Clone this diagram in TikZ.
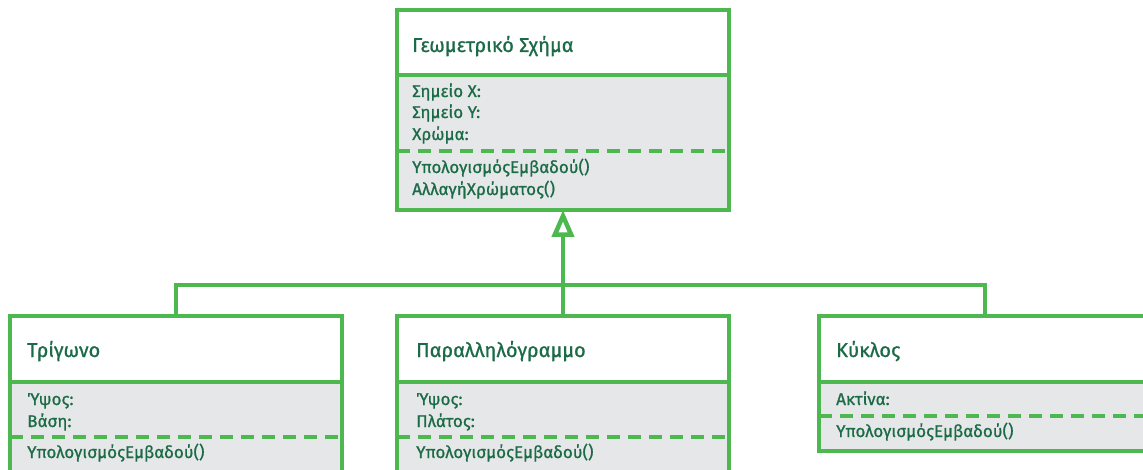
\documentclass[tikz,border=0pt]{standalone}
\usepackage{fontspec}
\setmainfont[FakeBold=0.8]{Fira Sans}
\usetikzlibrary{arrows.meta,calc}
\definecolor{UmlGreen}{HTML}{4CB84F}
\definecolor{UmlGray}{HTML}{E6E7E8}
\definecolor{UmlInk}{HTML}{1C6B47}
\tikzset{
  classhead/.style={draw=UmlGreen, fill=white, line width=4.5pt, inner sep=0pt,
    outer sep=0pt, minimum width=332pt, minimum height=66pt, anchor=north},
  classbody/.style={draw=UmlGreen, fill=UmlGray, line width=4.5pt, inner sep=0pt,
    outer sep=0pt, minimum width=332pt, anchor=north},
  classname/.style={anchor=base west, inner sep=0pt, text=UmlInk,
    font=\fontsize{20}{24}\selectfont},
  member/.style={anchor=base west, inner sep=0pt, text=UmlInk,
    font=\fontsize{17}{20}\selectfont},
  sep/.style={draw=UmlGreen, line width=4.5pt, dash pattern=on 13pt off 8pt},
  link/.style={draw=UmlGreen, line width=4.5pt}
}

\begin{document}
\begin{tikzpicture}[x=1pt, y=-1pt]
  \clip (0,0) rectangle (1143,470);
  % base class
  \node[classhead, minimum height=65pt] (shapehead) at (563,10) {};
  \node[classbody, minimum height=135pt] (shapebody) at (shapehead.south) {};
  \draw[sep] (shapebody.west |- 0,151) -- (shapebody.east |- 0,151);
  \node[classname] (shapename) at (412,52) {Γεωμετρικό Σχήμα};
  \node[member] (shapex) at (412,97) {Σημείο X:};
  \node[member] (shapey) at (412,118) {Σημείο Y:};
  \node[member] (shapecol) at (412,140) {Χρώμα:};
  \node[member] (shapearea) at (412,173) {ΥπολογισμόςΕμβαδού()};
  \node[member] (shaperecol) at (412,195) {ΑλλαγήΧρώματος()};

  % derived classes
  \node[classhead] (trihead) at (176,316) {};
  \node[classbody, minimum height=100pt] (tribody) at (trihead.south) {};
  \node[classhead] (parahead) at (563,316) {};
  \node[classbody, minimum height=100pt] (parabody) at (parahead.south) {};
  \node[classhead] (circhead) at (985,316) {};
  \node[classbody, minimum height=69pt] (circbody) at (circhead.south) {};

  \draw[sep] (tribody.west |- 0,437) -- (tribody.east |- 0,437);
  \draw[sep] (parabody.west |- 0,437) -- (parabody.east |- 0,437);
  \draw[sep] (circbody.west |- 0,416) -- (circbody.east |- 0,416);

  \node[classname] (triname) at (27,357) {Τρίγωνο};
  \node[member] (trih) at (27,405) {Ύψος:};
  \node[member] (trib) at (27,427) {Βάση:};
  \node[member] (triarea) at (27,458) {ΥπολογισμόςΕμβαδού()};

  \node[classname] (paraname) at (416,357) {Παραλληλόγραμμο};
  \node[member] (parah) at (416,405) {Ύψος:};
  \node[member] (paraw) at (416,427) {Πλάτος:};
  \node[member] (paraarea) at (416,458) {ΥπολογισμόςΕμβαδού()};

  \node[classname] (circname) at (836,357) {Κύκλος};
  \node[member] (circr) at (836,405) {Ακτίνα:};
  \node[member] (circarea) at (836,437) {ΥπολογισμόςΕμβαδού()};

  % inheritance
  \coordinate (bus) at (563,285);
  \draw[link] (trihead.north) -- (trihead.north |- bus)
    -- (circhead.north |- bus) -- (circhead.north);
  \draw[link, -{Triangle[open, length=27pt, width=22pt]}]
    (parahead.north) -- (shapebody.south);
\end{tikzpicture}
\end{document}
